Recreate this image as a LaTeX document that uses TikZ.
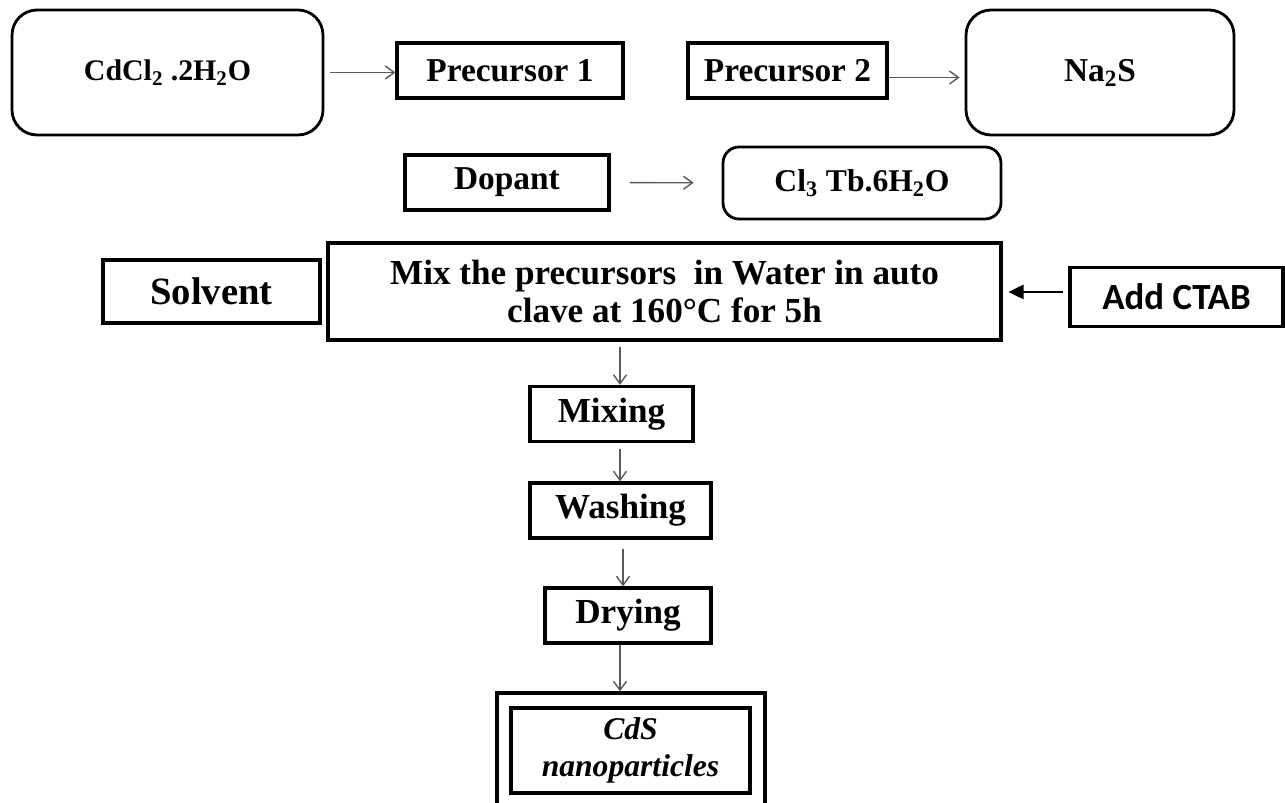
\documentclass[tikz,border=0pt]{standalone}
\usepackage{fontspec}
\setmainfont{Liberation Serif}
\newfontfamily\calibri{Carlito}
\usepackage{tikz}
\usetikzlibrary{arrows.meta,calc}

\begin{document}
\begin{tikzpicture}[x=0.02cm,y=-0.02cm,
  box/.style={draw,line width=1.8pt,inner sep=0pt,align=center,font=\bfseries\fontsize{19}{22}\selectfont},
  rbox/.style={box,line width=1.6pt,rounded corners=0.5cm},
  arr/.style={draw=black!65,line width=0.8pt,-{Straight Barb[length=0.18cm,width=0.26cm]}},
  thickarr/.style={line width=1.5pt,-{Triangle[length=0.3cm,width=0.28cm]}}]
\useasboundingbox (0,0) rectangle (1285,803);
\clip (0,0) rectangle (1285,803);
% top row
\node[rbox,minimum width=6.22cm,minimum height=2.5cm,font=\bfseries\fontsize{17}{20}\selectfont] (cdcl) at (167.5,72.5) {CdCl\textsubscript{2} .2H\textsubscript{2}O};
\node[box,minimum width=4.52cm,minimum height=1.1cm] (pre1) at (510,70.5) {Precursor 1};
\node[box,minimum width=3.98cm,minimum height=1.1cm] (pre2) at (787.5,70.5) {Precursor 2};
\node[rbox,minimum width=5.36cm,minimum height=2.5cm] (nas) at (1100,72.5) {Na\textsubscript{2}S};
% dopant row
\node[box,minimum width=4.08cm,minimum height=1.1cm] (dop) at (507,182.5) {Dopant};
\node[rbox,rounded corners=0.32cm,minimum width=5.56cm,minimum height=1.44cm,font=\bfseries\fontsize{18}{21}\selectfont] (tb) at (862,183) {Cl\textsubscript{3} Tb.6H\textsubscript{2}O};
% solvent row
\node[box,minimum width=4.34cm,minimum height=1.26cm,font=\bfseries\fontsize{22}{26}\selectfont] (solv) at (211.5,291.5) {Solvent};
\node[box,minimum width=13.46cm,minimum height=1.94cm,font=\bfseries\fontsize{20}{22}\selectfont] (mix) at (664.5,291.5) {Mix the precursors~ in Water in auto\\clave at 160°C for 5h};
\node[box,minimum width=4.26cm,minimum height=1.18cm,font=\calibri\bfseries\fontsize{21}{24}\selectfont] (ctab) at (1176.5,297) {Add CTAB};
% steps
\node[box,minimum width=3.26cm,minimum height=1.1cm,font=\bfseries\fontsize{20}{24}\selectfont] (mixing) at (611.5,414) {Mixing};
\node[box,minimum width=3.62cm,minimum height=1.1cm,font=\bfseries\fontsize{20}{24}\selectfont] (wash) at (620.5,510.5) {Washing};
\node[box,minimum width=3.32cm,minimum height=1.1cm,font=\bfseries\fontsize{20}{24}\selectfont] (dry) at (628,615.5) {Drying};
\node[box,minimum width=5.36cm,minimum height=2.48cm] (outer) at (631,755) {};
\node[box,minimum width=4.78cm,minimum height=1.7cm,font=\bfseries\itshape\fontsize{18}{21}\selectfont] (cds) at (630.5,750.5) {CdS\\nanoparticles};
% arrows
\coordinate (axis) at (620,0);
\draw[arr,shorten <=0.12cm] (cdcl.east) -- (cdcl.east -| pre1.west);
\draw[arr,shorten >=0.1cm] ([yshift=-0.14cm]pre2.east) -- ([yshift=-0.14cm]pre2.east -| nas.west);
\draw[arr,shorten <=0.38cm,shorten >=0.56cm] (dop) -- (tb);
\draw[thickarr,shorten <=0.1cm,shorten >=0.12cm] ([yshift=0.1cm]ctab.west) -- ([yshift=0.1cm]ctab.west -| mix.east);
\draw[arr,shorten <=0.1cm] (axis |- mix.south) -- (axis |- mixing.north);
\draw[arr,shorten <=0.12cm] (axis |- mixing.south) -- (axis |- wash.north);
\draw[arr,shorten <=0.18cm] ([xshift=0.06cm]axis |- wash.south) -- ([xshift=0.06cm]axis |- dry.north);
\draw[arr] (axis |- dry.south) -- (axis |- outer.north);
\end{tikzpicture}
\end{document}
